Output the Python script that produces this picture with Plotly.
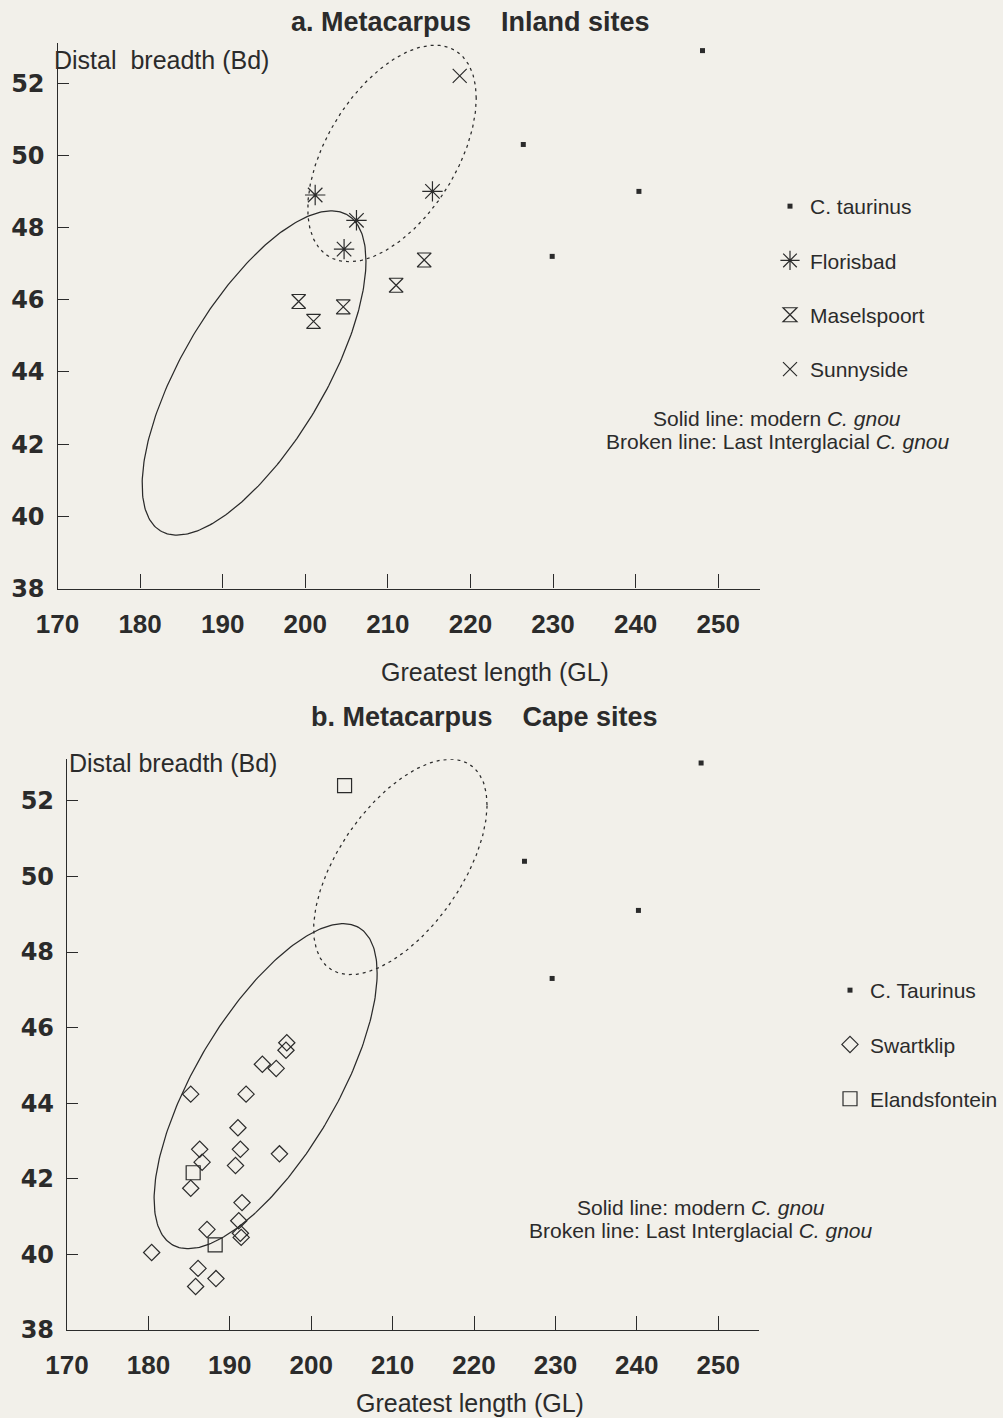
import numpy as np
import plotly.graph_objects as go

# ---------------- data ----------------
# a. Inland sites
inl_taurinus_gl = [248.1, 226.4, 240.4, 229.9]
inl_taurinus_bd = [52.9, 50.3, 49.0, 47.2]
florisbad_gl = [201.2, 206.2, 204.7, 215.4]
florisbad_bd = [48.9, 48.2, 47.4, 49.0]
maselspoort_gl = [199.2, 201.0, 204.6, 211.0, 214.4]
maselspoort_bd = [45.95, 45.4, 45.8, 46.4, 47.1]
sunnyside_gl = [218.7]
sunnyside_bd = [52.2]

# b. Cape sites
cape_taurinus_gl = [247.9, 226.2, 240.2, 229.6]
cape_taurinus_bd = [53.0, 50.4, 49.1, 47.3]
swartklip_gl = [197.0, 196.9, 194.0, 195.7, 185.2, 192.0, 191.0, 186.3, 191.3, 196.1,
                186.6, 190.7, 185.2, 191.5, 191.1, 187.2, 191.3, 191.4, 180.4, 186.1,
                188.3, 185.8]
swartklip_bd = [45.6, 45.4, 45.03, 44.92, 44.24, 44.24, 43.35, 42.78, 42.78, 42.66,
                42.44, 42.35, 41.75, 41.37, 40.89, 40.66, 40.56, 40.45, 40.05, 39.63,
                39.36, 39.15]
elandsfontein_gl = [204.1, 185.5, 188.2]
elandsfontein_bd = [52.4, 42.16, 40.25]

# ellipse parameters: [centre GL, centre Bd, A, D, E]
ell_modern_a = [193.8, 43.97, 13.55, 3.10, 3.25]
ell_lig_a = [210.5, 50.05, 10.2, 1.53, 2.58]
ell_modern_b = [194.4, 44.45, 13.7, 2.99, 3.09]
ell_lig_b = [210.95, 50.25, 10.65, 1.64, 2.33]

x_ticks = [170, 180, 190, 200, 210, 220, 230, 240, 250]
y_ticks = [38, 40, 42, 44, 46, 48, 50, 52]

INK = "#2b2b2b"
BG = "#f2f0ea"
FONT = "Liberation Sans, Arial, sans-serif"
YFONT = "DejaVu Sans, Liberation Sans, sans-serif"

W, H = 1003, 1418


def ellipse(p):
    t = np.linspace(0, 2 * np.pi, 300)
    cx, cy, A, D, E = p
    return cx + A * np.cos(t), cy + D * np.cos(t) + E * np.sin(t)


fig = go.Figure()

# domains in paper coords
top_x = [57.5 / W, 759.5 / W]
top_y = [1 - 588.5 / H, 1 - (588.5 - 15.1 * 36.1) / H]
bot_x = [67 / W, (67 + 85 * 8.14) / W]
bot_y = [1 - 1330 / H, 1 - (1330 - 15.1 * 37.8) / H]

axis_common = dict(
    showline=True, linecolor=INK, linewidth=1.3, showgrid=False, zeroline=False,
    ticks="inside", tickcolor=INK, tickwidth=1.2, mirror=False, automargin=False,
)
xfont = dict(family=FONT, size=26, color=INK, weight="bold")
yfont = dict(family=YFONT, size=24, color=INK, weight="bold")

fig.update_layout(
    width=W, height=H, paper_bgcolor=BG, plot_bgcolor="rgba(0,0,0,0)",
    margin=dict(l=0, r=0, t=0, b=0, autoexpand=False),
    font=dict(family=FONT, color=INK),
    xaxis=dict(domain=top_x, range=[170, 255], anchor="y", tickvals=x_ticks,
               ticklen=14, ticklabelstandoff=12, tickfont=xfont, **axis_common),
    yaxis=dict(domain=top_y, range=[38, 53.1], anchor="x", tickvals=y_ticks,
               ticklen=11, ticklabelstandoff=7, tickfont=yfont, **axis_common),
    xaxis2=dict(domain=bot_x, range=[170, 255], anchor="y2", tickvals=x_ticks,
                ticklen=14, ticklabelstandoff=12, tickfont=xfont, **axis_common),
    yaxis2=dict(domain=bot_y, range=[38, 53.1], anchor="x2", tickvals=y_ticks,
                ticklen=11, ticklabelstandoff=7, tickfont=yfont, **axis_common),
    showlegend=True,
    legend=dict(x=770 / W, y=1 - 186 / H, xanchor="left", yanchor="top",
                bgcolor="rgba(0,0,0,0)", font=dict(family=FONT, size=21, color=INK),
                tracegroupgap=24, itemsizing="trace", itemwidth=30),
    legend2=dict(x=830 / W, y=1 - 970 / H, xanchor="left", yanchor="top",
                 bgcolor="rgba(0,0,0,0)", font=dict(family=FONT, size=21, color=INK),
                 tracegroupgap=24, itemsizing="trace", itemwidth=30),
)

# ---- ellipses ----
for p, dash, xa, ya in [(ell_modern_a, "solid", "x", "y"), (ell_lig_a, "3px,4px", "x", "y"),
                        (ell_modern_b, "solid", "x2", "y2"), (ell_lig_b, "3px,4px", "x2", "y2")]:
    ex, ey = ellipse(p)
    fig.add_trace(go.Scatter(x=ex, y=ey, mode="lines", xaxis=xa, yaxis=ya,
                             line=dict(color=INK, width=1.25, dash=dash),
                             showlegend=False, hoverinfo="skip", cliponaxis=False))

mk_line = dict(color=INK, width=1.2)

# ---- a. inland ----
fig.add_trace(go.Scatter(x=inl_taurinus_gl, y=inl_taurinus_bd, mode="markers", name="C. taurinus",
                         legendgroup="a1", legend="legend", cliponaxis=False,
                         marker=dict(symbol="square", size=5, color=INK)))
fig.add_trace(go.Scatter(x=florisbad_gl, y=florisbad_bd, mode="markers", name="Florisbad",
                         legendgroup="a2", legend="legend", cliponaxis=False,
                         marker=dict(symbol="asterisk-open", size=17, color=INK, line=mk_line)))
fig.add_trace(go.Scatter(x=maselspoort_gl, y=maselspoort_bd, mode="markers", name="Maselspoort",
                         legendgroup="a3", legend="legend", cliponaxis=False,
                         marker=dict(symbol="hourglass-open", size=14, color=INK, line=mk_line)))
fig.add_trace(go.Scatter(x=sunnyside_gl, y=sunnyside_bd, mode="markers", name="Sunnyside",
                         legendgroup="a4", legend="legend", cliponaxis=False,
                         marker=dict(symbol="x-thin-open", size=14, color=INK, line=mk_line)))

# ---- b. cape ----
fig.add_trace(go.Scatter(x=cape_taurinus_gl, y=cape_taurinus_bd, mode="markers", name="C. Taurinus",
                         xaxis="x2", yaxis="y2", legendgroup="b1", legend="legend2", cliponaxis=False,
                         marker=dict(symbol="square", size=5, color=INK)))
fig.add_trace(go.Scatter(x=swartklip_gl, y=swartklip_bd, mode="markers", name="Swartklip",
                         xaxis="x2", yaxis="y2", legendgroup="b2", legend="legend2", cliponaxis=False,
                         marker=dict(symbol="diamond-open", size=12.5, color=INK, line=mk_line)))
fig.add_trace(go.Scatter(x=elandsfontein_gl, y=elandsfontein_bd, mode="markers", name="Elandsfontein",
                         xaxis="x2", yaxis="y2", legendgroup="b3", legend="legend2", cliponaxis=False,
                         marker=dict(symbol="square-open", size=14, color=INK, line=mk_line)))

NB = "\u00a0"
ann = []
def A(text, x, y, size, xanchor="center", bold=False):
    ann.append(dict(text=text, x=x / W, y=1 - y / H, xref="paper", yref="paper",
                    showarrow=False, xanchor=xanchor, yanchor="middle",
                    font=dict(family=FONT, size=size, color=INK,
                              weight="bold" if bold else "normal")))

A(f"a. Metacarpus{NB*4}Inland sites", 470, 22, 27, bold=True)
A(f"Distal{NB*2}breadth (Bd)", 52, 60, 25, xanchor="left")
A("Greatest length (GL)", 495, 672, 25)
A("Solid line: modern <i>C. gnou</i>", 777, 418, 21)
A("Broken line: Last Interglacial <i>C. gnou</i>", 778, 442, 21)

A(f"b. Metacarpus{NB*4}Cape sites", 484, 717, 27, bold=True)
A("Distal breadth (Bd)", 67, 763, 25, xanchor="left")
A("Greatest length (GL)", 470, 1403, 25)
A("Solid line: modern <i>C. gnou</i>", 701, 1207, 21)
A("Broken line: Last Interglacial <i>C. gnou</i>", 701, 1230, 21)

fig.update_layout(annotations=ann)

fig.write_html("out.html", config={"displayModeBar": False},
               post_script="document.body.style.margin='0';document.body.style.background='%s';" % BG)
